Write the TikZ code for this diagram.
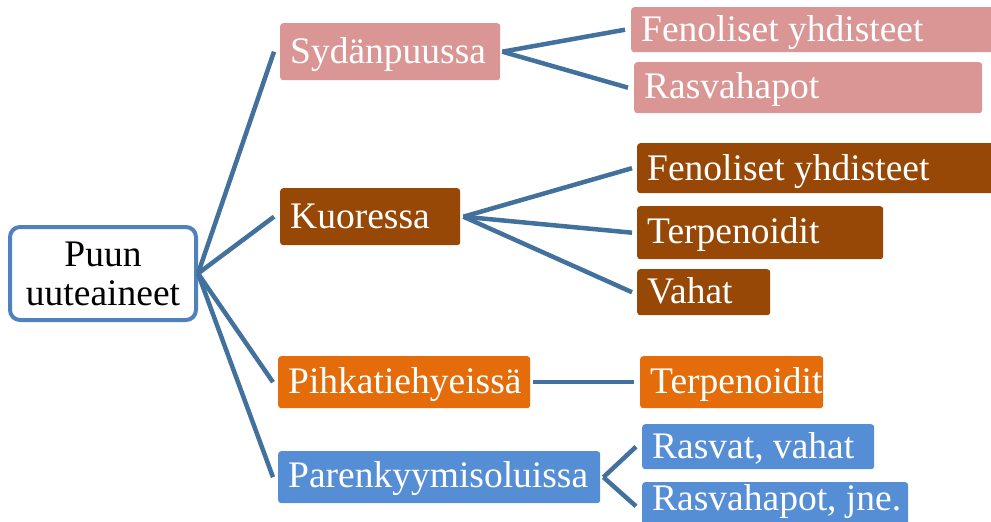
\documentclass[tikz,border=0pt]{standalone}
\usepackage{fontspec}
\setmainfont{Liberation Serif}
\definecolor{pinkc}{HTML}{D99694}
\definecolor{brownc}{HTML}{974806}
\definecolor{orangec}{HTML}{E46C0A}
\definecolor{bluec}{HTML}{558ED5}
\definecolor{linec}{HTML}{41719C}
\definecolor{rootc}{HTML}{4F81BD}
\newcommand{\boxtxt}[2]{\makebox[#1][l]{#2}}
\begin{document}
\begin{tikzpicture}[x=1pt,y=-1pt,
  box/.style={rectangle, rounded corners=3pt, inner xsep=10pt, inner ysep=0pt,
    text=white, anchor=north west, font=\rmfamily\fontsize{37.5}{39}\selectfont},
  conn/.style={draw=linec, line width=4.5pt}]
\useasboundingbox (0,0) rectangle (991,522);
% root
\node[draw=rootc, line width=4pt, rounded corners=10pt, fill=white,
  minimum width=186pt, minimum height=93pt, align=center, inner sep=0pt,
  font=\rmfamily\fontsize{37.5}{39}\selectfont] (root) at (103,273.5) {Puun\\uuteaineet};
% level 1
\node[box, fill=pinkc, text height=40pt, text depth=17pt] (syd) at (280,23) {\boxtxt{200pt}{Sydänpuussa}};
\node[box, fill=brownc, text height=40pt, text depth=17pt] (kuo) at (280,188) {\boxtxt{160pt}{Kuoressa}};
\node[box, fill=orangec, text height=37pt, text depth=15pt] (pih) at (278,356) {\boxtxt{232pt}{Pihkatiehyeissä}};
\node[box, fill=bluec, text height=36pt, text depth=16pt] (par) at (278,451) {\boxtxt{302pt}{Parenkyymisoluissa}};
% level 2
\node[box, fill=pinkc, text height=34pt, text depth=11pt] (sf) at (631,7) {\boxtxt{349pt}{Fenoliset yhdisteet}};
\node[box, fill=pinkc, text height=36pt, text depth=15pt] (sr) at (634,62) {\boxtxt{328pt}{Rasvahapot}};
\node[box, fill=brownc, text height=37pt, text depth=13pt] (kf) at (637,143) {\boxtxt{343pt}{Fenoliset yhdisteet}};
\node[box, fill=brownc, text height=37pt, text depth=16pt] (kt) at (637,206) {\boxtxt{226pt}{Terpenoidit}};
\node[box, fill=brownc, text height=34pt, text depth=12pt] (kv) at (637,269) {\boxtxt{113pt}{Vahat}};
\node[box, fill=orangec, text height=37pt, text depth=15pt] (pt) at (640,356) {\boxtxt{163pt}{Terpenoidit}};
\node[box, fill=bluec, text height=34pt, text depth=11pt] (rv) at (642,424) {\boxtxt{212pt}{Rasvat, vahat}};
\node[box, fill=bluec, text height=28pt, text depth=20pt] (rj) at (642,482) {\boxtxt{246pt}{Rasvahapot, jne.}};
% connectors
\draw[conn] (root.east) -- ([xshift=-6pt]syd.west);
\draw[conn] (root.east) -- ([xshift=-6pt]kuo.west);
\draw[conn] (root.east) -- ([xshift=-5pt]pih.west);
\draw[conn] (root.east) -- ([xshift=-5pt]par.west);
\draw[conn] ([xshift=2pt]syd.east) -- ([xshift=-6pt]sf.west);
\draw[conn] ([xshift=2pt]syd.east) -- ([xshift=-6pt]sr.west);
\draw[conn] ([xshift=3pt]kuo.east) -- ([xshift=-5pt]kf.west);
\draw[conn] ([xshift=3pt]kuo.east) -- ([xshift=-5pt]kt.west);
\draw[conn] ([xshift=3pt]kuo.east) -- ([xshift=-5pt]kv.west);
\draw[conn] ([xshift=3pt]pih.east) -- ([xshift=-6pt]pt.west);
\draw[conn] ([xshift=3pt]par.east) -- ([xshift=-6pt]rv.west);
\draw[conn] ([xshift=3pt]par.east) -- ([xshift=-6pt]rj.west);
\end{tikzpicture}
\end{document}
